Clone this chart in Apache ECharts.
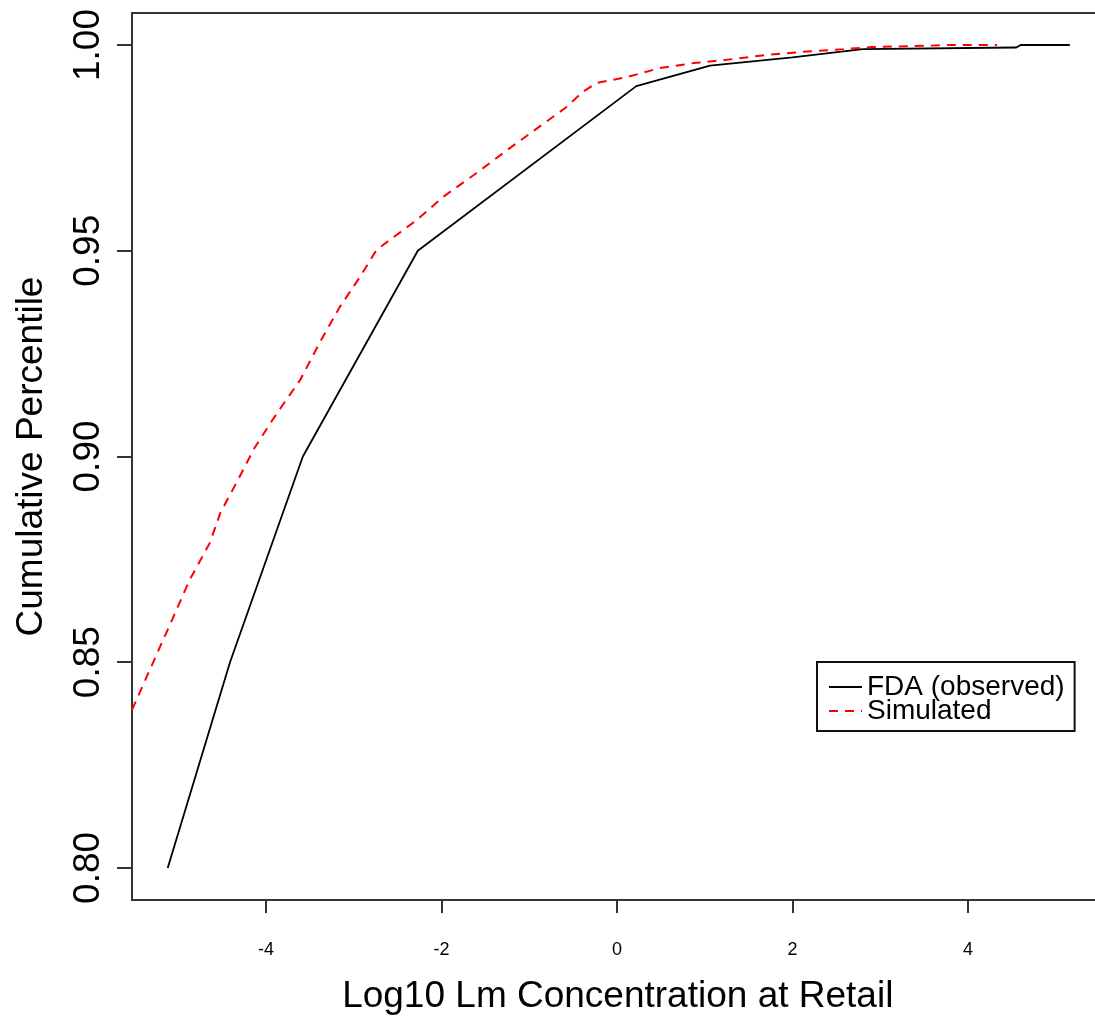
<!DOCTYPE html>
<html>
<head>
<meta charset="utf-8">
<title>Cumulative Percentile</title>
<script src="https://cdn.jsdelivr.net/npm/echarts@6/dist/echarts.min.js"></script>
<style>
html, body { margin: 0; padding: 0; background: #fff; }
#chart { width: 1095px; height: 1020px; }
</style>
</head>
<body>
<div id="chart"></div>
<script>
// FDA observed percentiles (log10 concentration, cumulative percentile)
var fdaX = [-5.12, -4.41, -3.58, -2.27, 0.22, 1.06, 2.0, 2.8, 4.55, 4.6, 5.16];
var fdaY = [0.80, 0.85, 0.90, 0.95, 0.99, 0.995, 0.997, 0.999, 0.9994, 1.0, 1.0];

// simulated curve
var simX = [-5.527, -5.30, -5.07, -4.87, -4.64, -4.52, -4.32, -4.13, -3.95, -3.81, -3.61,
            -3.39, -3.16, -2.93, -2.74, -2.59, -2.28, -1.98, -1.60, -1.25, -0.59, -0.39,
            -0.23, 0.11, 0.49, 0.87, 1.25, 1.71, 2.09, 2.58, 2.9, 3.5, 3.8, 4.33];
var simY = [0.8384, 0.8493, 0.8603, 0.8700, 0.8790, 0.8863, 0.8943, 0.9021, 0.9081, 0.9125, 0.9186,
            0.9276, 0.9363, 0.9436, 0.9502, 0.9526, 0.9575, 0.9631, 0.9689, 0.9745, 0.9847, 0.9886,
            0.9908, 0.9922, 0.9944, 0.9956, 0.9964, 0.9976, 0.9983, 0.9990, 0.9995, 0.9998, 1.0, 1.0];

var xTicks = [-4, -2, 0, 2, 4];
var yTicks = [0.80, 0.85, 0.90, 0.95, 1.00];
var seriesNames = ['FDA (observed)', 'Simulated'];
var xTitle = 'Log10 Lm Concentration at Retail';
var yTitle = 'Cumulative Percentile';

function pairs(xs, ys) {
    var out = [];
    for (var i = 0; i < xs.length; i++) out.push([xs[i], ys[i]]);
    return out;
}

var font = '"Liberation Sans", Arial, sans-serif';
var chart = echarts.init(document.getElementById('chart'), null, { renderer: 'canvas' });

var option = {
    animation: false,
    backgroundColor: '#fff',
    grid: {
        left: 132,
        top: 13,
        width: 1011.5,
        height: 887,
        outerBoundsMode: 'none',
        containLabel: false,
        show: true,
        borderColor: '#333',
        borderWidth: 2,
        backgroundColor: 'transparent'
    },
    legend: {
        orient: 'vertical',
        left: 817,
        top: 662,
        padding: [11, 10, 6, 11],
        itemGap: -4,
        itemWidth: 33,
        itemHeight: 14,
        borderColor: '#111',
        borderWidth: 2,
        backgroundColor: '#fff',
        borderRadius: 0,
        itemStyle: { color: 'rgba(0,0,0,0)', borderWidth: 0, opacity: 0 },
        textStyle: { fontFamily: font, fontSize: 28, color: '#000', lineHeight: 24 },
        data: seriesNames
    },
    xAxis: {
        type: 'value',
        min: -5.527,
        max: 6.0,
        name: xTitle,
        nameLocation: 'middle',
        nameGap: 78,
        nameMoveOverlap: false,
        // the plot box runs past the right edge, so pull the title back to the visible centre
        nameTextStyle: { fontFamily: font, fontSize: 37, color: '#000', padding: [0, 40, 0, 0] },
        axisLine: { show: true, onZero: false, lineStyle: { color: '#333', width: 2 } },
        axisTick: { show: true, length: 13, lineStyle: { color: '#333', width: 2 }, customValues: xTicks },
        axisLabel: { fontFamily: font, fontSize: 18, color: '#000', margin: 41, customValues: xTicks },
        splitLine: { show: false }
    },
    yAxis: {
        type: 'value',
        min: 0.7922,
        max: 1.00778,
        name: yTitle,
        nameLocation: 'middle',
        nameGap: 82,
        nameMoveOverlap: false,
        nameTextStyle: { fontFamily: font, fontSize: 37, color: '#000' },
        axisLine: { show: true, onZero: false, lineStyle: { color: '#333', width: 2 } },
        axisTick: { show: true, length: 15, lineStyle: { color: '#333', width: 2 }, customValues: yTicks },
        axisLabel: {
            fontFamily: font, fontSize: 37, color: '#000', margin: 25, rotate: 90,
            customValues: yTicks,
            formatter: function (v) { return v.toFixed(2); }
        },
        splitLine: { show: false }
    },
    series: [
        {
            name: seriesNames[0],
            type: 'line',
            symbol: 'none',
            clip: true,
            lineStyle: { color: '#000', width: 1.8 },
            itemStyle: { color: '#000' },
            data: pairs(fdaX, fdaY)
        },
        {
            name: seriesNames[1],
            type: 'line',
            symbol: 'none',
            clip: true,
            lineStyle: { color: '#ff0000', width: 2, type: [9, 7] },
            itemStyle: { color: '#ff0000' },
            data: pairs(simX, simY)
        }
    ]
};
chart.setOption(option);
</script>
</body>
</html>
